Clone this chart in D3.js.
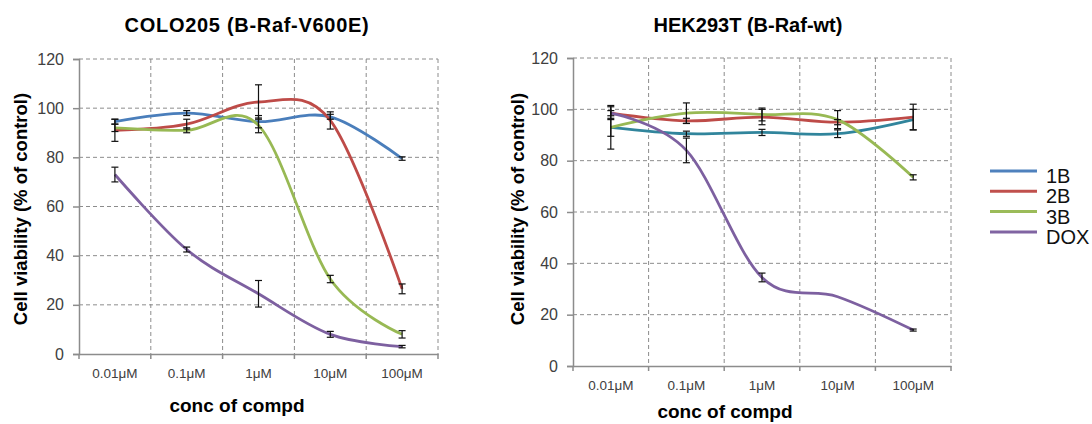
<!DOCTYPE html>
<html>
<head>
<meta charset="utf-8">
<script src="https://cdn.jsdelivr.net/npm/d3@7"></script>
<style>
  body { margin: 0; background: #fff; }
  svg { display: block; font-family: "Liberation Sans", Arial, sans-serif; }
</style>
</head>
<body>
<div class="chart"></div>
<script>
const concLabels = ["0.01μM", "0.1μM", "1μM", "10μM", "100μM"];
const yTicks = [0, 20, 40, 60, 80, 100, 120];
const seriesNames = ["1B", "2B", "3B", "DOX"];

// COLO205 (B-Raf-V600E)
const colo1B = [94.5, 98, 94.5, 96.5, 79.5];
const colo1BErr = [1, 1, 2.5, 1, 0.7];
const colo2B = [91, 93.5, 102.5, 95, 26.5];
const colo2BErr = [4.5, 2, 7, 3.5, 2];
const colo3B = [92, 91, 93, 30.5, 8];
const colo3BErr = [1.5, 1, 3, 1.5, 1.5];
const coloDOX = [73, 42.5, 24.5, 8, 3];
const coloDOXErr = [3, 1, 5.4, 1.2, 0.5];

// HEK293T (B-Raf-wt)
const hek1B = [93, 90.5, 91, 90.5, 96];
const hek1BErr = [3.5, 1, 1.2, 1.5, 4];
const hek2B = [98.5, 95.5, 97, 95, 97];
const hek2BErr = [2.5, 1, 3, 1, 5];
const hek3B = [93, 98.5, 98, 96, 73.5];
const hek3BErr = [8.5, 4, 2.5, 3.5, 1];
const hekDOX = [98.5, 84, 34.5, 27, 14];
const hekDOXErr = [1, 4.8, 1.7, 0, 0.4];

const W = 1092, H = 424;
const gridColor = "#8c8c8c";
const axisColor = "#8c8c8c";

const svg = d3.select(".chart").append("svg")
  .attr("width", W)
  .attr("height", H);

function drawChart(opt) {
  const g = svg.append("g");

  const x = d3.scaleBand().domain(concLabels).range([opt.left, opt.right]);
  const y = d3.scaleLinear().domain([0, 120]).range([opt.bottom, opt.top]);
  const cx = d => x(d) + x.bandwidth() / 2;

  // horizontal dashed gridlines
  g.selectAll(".hgrid")
    .data(yTicks.filter(t => t > 0))
    .enter().append("line")
    .attr("class", "hgrid")
    .attr("x1", opt.left).attr("x2", opt.right)
    .attr("y1", d => y(d)).attr("y2", d => y(d))
    .attr("stroke", gridColor)
    .attr("stroke-width", 1)
    .attr("stroke-dasharray", "4,3");

  // vertical dashed gridlines at band edges
  const edges = concLabels.map(c => x(c) + x.bandwidth());
  g.selectAll(".vgrid")
    .data(edges)
    .enter().append("line")
    .attr("class", "vgrid")
    .attr("x1", d => d).attr("x2", d => d)
    .attr("y1", opt.top).attr("y2", opt.bottom)
    .attr("stroke", gridColor)
    .attr("stroke-width", 1)
    .attr("stroke-dasharray", "4,3");

  // y axis
  const yAxis = g.append("g")
    .attr("transform", `translate(${opt.left},0)`)
    .call(d3.axisLeft(y).tickValues(yTicks).tickSize(6).tickPadding(9));
  yAxis.select(".domain").attr("stroke", axisColor).attr("stroke-width", 1.5);
  yAxis.selectAll(".tick line").attr("stroke", axisColor).attr("stroke-width", 1.5);
  yAxis.selectAll("text")
    .attr("font-size", 16)
    .attr("fill", "#404040")
    .attr("font-family", "Liberation Sans, Arial, sans-serif");

  // x axis
  const xAxis = g.append("g")
    .attr("transform", `translate(0,${opt.bottom})`)
    .call(d3.axisBottom(x).tickSize(0).tickPadding(opt.xLabelPad));
  xAxis.select(".domain").attr("stroke", axisColor).attr("stroke-width", 1.5);
  xAxis.selectAll("text")
    .attr("font-size", 13.5)
    .attr("fill", "#404040")
    .attr("font-family", "Liberation Sans, Arial, sans-serif");
  g.selectAll(".xtick")
    .data([opt.left].concat(edges))
    .enter().append("line")
    .attr("class", "xtick")
    .attr("x1", d => d).attr("x2", d => d)
    .attr("y1", opt.bottom).attr("y2", opt.bottom + 5)
    .attr("stroke", axisColor)
    .attr("stroke-width", 1.5);

  // smoothed lines
  const line = d3.line()
    .x((d, i) => cx(concLabels[i]))
    .y(d => y(d))
    .curve(d3.curveCardinal.tension(0));

  opt.series.forEach(s => {
    g.append("path")
      .datum(s.values)
      .attr("d", line)
      .attr("fill", "none")
      .attr("stroke", s.color)
      .attr("stroke-width", 2.8);
  });

  // error bars
  opt.series.forEach(s => {
    const bars = s.values.map((v, i) => ({ c: concLabels[i], v: v, e: s.err[i] }))
      .filter(d => d.e > 0);
    const eb = g.append("g");
    eb.selectAll(".stem").data(bars).enter().append("line")
      .attr("class", "stem")
      .attr("x1", d => cx(d.c)).attr("x2", d => cx(d.c))
      .attr("y1", d => y(d.v - d.e)).attr("y2", d => y(d.v + d.e))
      .attr("stroke", "#111").attr("stroke-width", 1.2);
    [-1, 1].forEach(sign => {
      const cls = sign > 0 ? "capHi" : "capLo";
      eb.selectAll("." + cls).data(bars).enter().append("line")
        .attr("class", cls)
        .attr("x1", d => cx(d.c) - 3.5).attr("x2", d => cx(d.c) + 3.5)
        .attr("y1", d => y(d.v + sign * d.e))
        .attr("y2", d => y(d.v + sign * d.e))
        .attr("stroke", "#111").attr("stroke-width", 1.2);
    });
  });

  // titles
  g.append("text")
    .attr("x", opt.titleX).attr("y", 32)
    .attr("text-anchor", "middle")
    .attr("font-size", 20).attr("font-weight", "bold")
    .attr("letter-spacing", opt.titleSpacing)
    .attr("fill", "#000")
    .text(opt.title);

  g.append("text")
    .attr("transform", `translate(${opt.yTitleX},209) rotate(-90)`)
    .attr("text-anchor", "middle")
    .attr("font-size", 18.5).attr("font-weight", "bold")
    .attr("fill", "#000")
    .text("Cell viability (% of control)");

  g.append("text")
    .attr("x", opt.xTitleX).attr("y", opt.xTitleY)
    .attr("text-anchor", "middle")
    .attr("font-size", 19).attr("font-weight", "bold")
    .attr("fill", "#000")
    .text("conc of compd");
}

drawChart({
  left: 79, right: 438, top: 59, bottom: 354,
  xLabelPad: 14,
  title: "COLO205 (B-Raf-V600E)", titleX: 247, titleSpacing: 0.7,
  yTitleX: 27, xTitleX: 237, xTitleY: 412,
  series: [
    { values: colo1B, err: colo1BErr, color: "#4A7EBB" },
    { values: colo2B, err: colo2BErr, color: "#BE4B48" },
    { values: colo3B, err: colo3BErr, color: "#98B954" },
    { values: coloDOX, err: coloDOXErr, color: "#7D60A0" }
  ]
});

drawChart({
  left: 573, right: 951, top: 58, bottom: 366,
  xLabelPad: 14,
  title: "HEK293T (B-Raf-wt)", titleX: 748, titleSpacing: 0,
  yTitleX: 524, xTitleX: 725, xTitleY: 418,
  series: [
    { values: hek1B, err: hek1BErr, color: "#31859C" },
    { values: hek2B, err: hek2BErr, color: "#BE4B48" },
    { values: hek3B, err: hek3BErr, color: "#98B954" },
    { values: hekDOX, err: hekDOXErr, color: "#7D60A0" }
  ]
});

// legend
const legendColors = ["#4F81BD", "#C0504D", "#9BBB59", "#8064A2"];
const legend = svg.append("g").attr("transform", "translate(990,171)");
const rows = legend.selectAll("g").data(seriesNames).enter().append("g")
  .attr("transform", (d, i) => `translate(0,${i * 20.3})`);
rows.append("line")
  .attr("x1", 0).attr("x2", 47)
  .attr("stroke", (d, i) => legendColors[i])
  .attr("stroke-width", 3);
rows.append("text")
  .attr("x", 56).attr("y", 12)
  .attr("font-size", 20)
  .attr("fill", "#111")
  .text(d => d);
</script>
</body>
</html>
